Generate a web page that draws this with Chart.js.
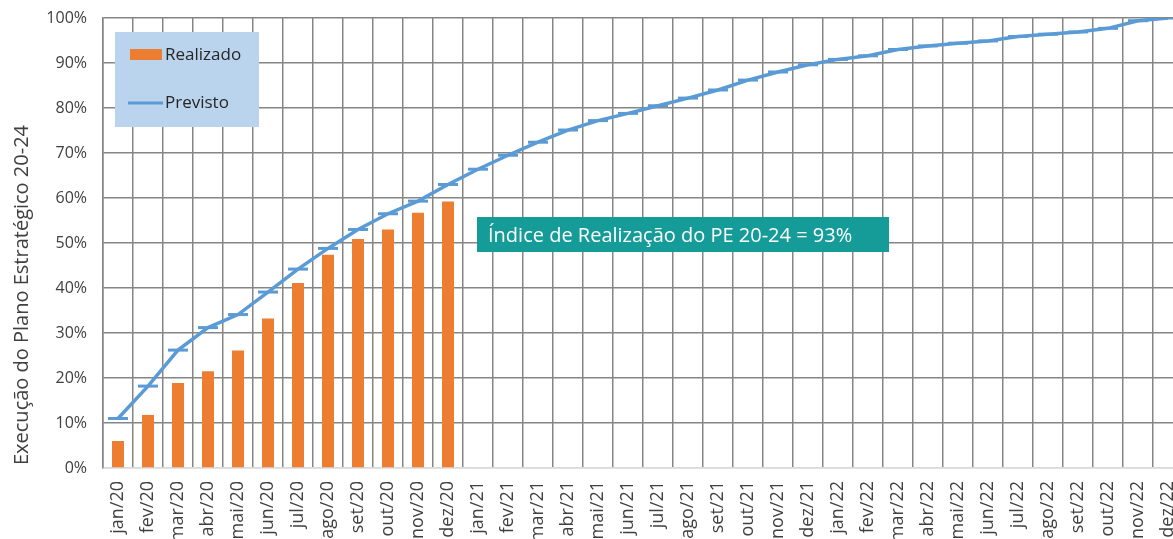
<!DOCTYPE html>
<html>
<head>
<meta charset="utf-8">
<script src="https://cdn.jsdelivr.net/npm/chart.js@4"></script>
<style>
html,body{margin:0;padding:0;background:#fff;overflow:hidden;width:1173px;height:539px;}
#c{position:absolute;left:0;top:0;display:block;}
</style>
</head>
<body>
<canvas id="c" width="1196" height="560"></canvas>
<script>
const categories = [
  'jan/20','fev/20','mar/20','abr/20','mai/20','jun/20','jul/20','ago/20','set/20','out/20','nov/20','dez/20',
  'jan/21','fev/21','mar/21','abr/21','mai/21','jun/21','jul/21','ago/21','set/21','out/21','nov/21','dez/21',
  'jan/22','fev/22','mar/22','abr/22','mai/22','jun/22','jul/22','ago/22','set/22','out/22','nov/22','dez/22'
];
const realizado = [6.0, 11.8, 18.9, 21.5, 26.1, 33.2, 41.1, 47.4, 50.9, 53.0, 56.7, 59.2];
const previsto = [11.0, 18.2, 26.2, 31.2, 34.1, 39.1, 44.2, 48.8, 53.0, 56.5, 59.3, 63.0,
  66.4, 69.5, 72.4, 75.1, 77.2, 78.8, 80.5, 82.2, 84.0, 86.2, 88.0, 89.6,
  90.8, 91.6, 93.0, 93.8, 94.4, 94.9, 95.9, 96.4, 96.9, 97.7, 99.4, 100.0];
const yTicks = [0, 10, 20, 30, 40, 50, 60, 70, 80, 90, 100];
const yTitle = 'Execução do Plano Estratégico 20-24';
const seriesNames = ['Realizado', 'Previsto'];
const noteText = 'Índice de Realização do PE 20-24 = 93%';

const FONT = '"Open Sans", "Noto Sans", sans-serif';
const ORANGE = '#ED7D31', BLUE = '#5B9BD5', GRID = '#858585';

const overlay = {
  id: 'overlay',
  afterDraw(chart) {
    const ctx = chart.ctx;
    ctx.save();
    // y title
    ctx.save();
    ctx.translate(22, 295);
    ctx.rotate(-Math.PI / 2);
    ctx.fillStyle = '#404040';
    ctx.font = '20px ' + FONT;
    ctx.textAlign = 'center';
    ctx.textBaseline = 'middle';
    ctx.fillText(yTitle, 0, 0);
    ctx.restore();
    // legend
    ctx.fillStyle = '#BAD4ED';
    ctx.fillRect(115, 32, 144, 95);
    ctx.fillStyle = ORANGE;
    ctx.fillRect(130, 49, 32, 11);
    ctx.strokeStyle = BLUE;
    ctx.lineWidth = 3;
    ctx.beginPath(); ctx.moveTo(128, 103); ctx.lineTo(163, 103); ctx.stroke();
    ctx.fillStyle = '#262626';
    ctx.font = '17px ' + FONT;
    ctx.textAlign = 'left';
    ctx.textBaseline = 'middle';
    ctx.fillText(seriesNames[0], 165, 55);
    ctx.fillText(seriesNames[1], 165, 103);
    // note box
    ctx.fillStyle = '#159C98';
    ctx.fillRect(477, 217, 412, 35);
    ctx.fillStyle = '#ffffff';
    ctx.font = '20px ' + FONT;
    ctx.fillText(noteText, 488, 236);
    ctx.restore();
  }
};

new Chart(document.getElementById('c'), {
  data: {
    labels: categories,
    datasets: [
      {
        type: 'line', label: seriesNames[1], data: previsto, order: 0,
        borderColor: BLUE, backgroundColor: BLUE, borderWidth: 3.5, tension: 0,
        pointStyle: 'line', pointRadius: 10, pointBorderWidth: 3, pointBorderColor: BLUE,
        pointHoverRadius: 10
      },
      {
        type: 'bar', label: seriesNames[0], data: realizado, order: 1,
        backgroundColor: ORANGE, categoryPercentage: 0.8, barPercentage: 0.5
      }
    ]
  },
  options: {
    responsive: false, animation: false,
    layout: { padding: { top: 18, left: 0, right: 0, bottom: 0 } },
    plugins: { legend: { display: false }, tooltip: { enabled: false } },
    scales: {
      x: {
        type: 'category', offset: true,
        grid: { color: GRID, lineWidth: 1.5, offset: true, drawTicks: false },
        border: { color: '#d9d9d9', width: 1.5 },
        ticks: { color: '#404040', font: { family: FONT, size: 18 }, minRotation: 90, maxRotation: 90, padding: 13, autoSkip: false },
        afterFit(s) { s.height = 92; s.paddingLeft = 0; s.paddingRight = 0; }
      },
      y: {
        min: 0, max: 100,
        afterBuildTicks(s) { s.ticks = yTicks.map(v => ({ value: v })); },
        grid: { color: c => (c.tick && c.tick.value === 0 ? '#d9d9d9' : GRID), lineWidth: 1.5, drawTicks: false },
        border: { color: GRID, width: 1.5 },
        ticks: { color: '#404040', font: { family: FONT, size: 16 }, padding: 16, callback: v => v + '%' },
        afterFit(s) { s.width = 103; s.paddingTop = 0; s.paddingBottom = 0; }
      }
    }
  },
  plugins: [overlay]
});
</script>
</body>
</html>
